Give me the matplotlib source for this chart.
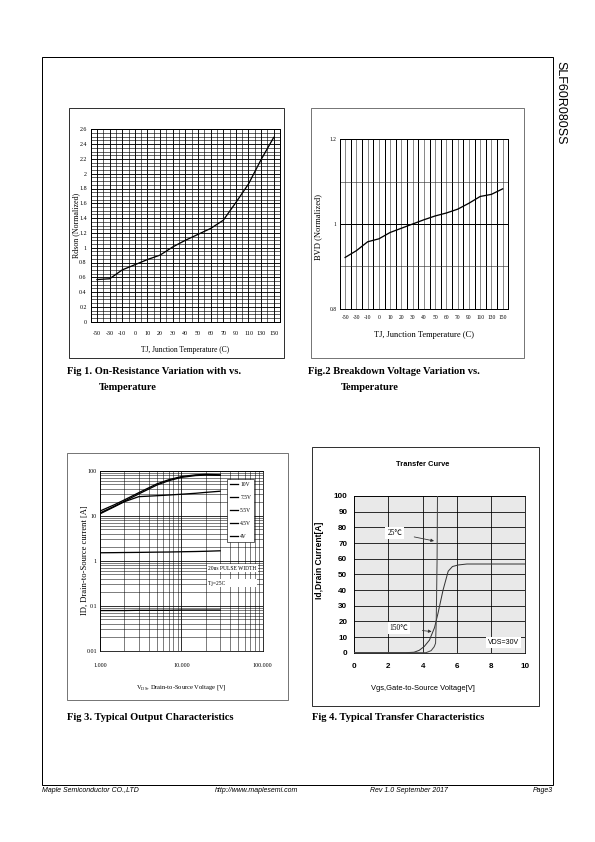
import matplotlib
matplotlib.use("Agg")
import matplotlib.pyplot as plt
import numpy as np
from matplotlib.patches import Rectangle

# fig 1 / fig 2 : normalized values vs junction temperature (category axis)
tj_labels = ["-50", "-30", "-10", "0", "10", "20", "30", "40", "50", "60", "70", "90", "110", "130", "150"]
rdson_norm = [0.57, 0.58, 0.70, 0.77, 0.84, 0.90, 1.01, 1.10, 1.18, 1.26, 1.37, 1.61, 1.86, 2.19, 2.49]
bvd_norm = [0.921, 0.937, 0.958, 0.965, 0.980, 0.990, 1.000, 1.010, 1.019, 1.026, 1.035, 1.049, 1.065, 1.070, 1.083]

# fig 3 : output characteristics
vds = [1, 1.5, 2, 3, 5, 7, 10, 15, 20, 30]
id_10v = [12.7, 17.5, 22.5, 32.5, 51, 63, 74, 81, 83, 81]
id_75v = [11.5, 16.2, 21, 30.5, 48, 60, 71, 78, 80, 79]
id_55v = [11.0, 15.8, 20.5, 26.5, 27.8, 28.8, 30, 31.5, 33, 35]
id_45v = [1.50, 1.51, 1.52, 1.53, 1.55, 1.56, 1.58, 1.60, 1.62, 1.66]
id_4v = [0.078, 0.078, 0.078, 0.079, 0.079, 0.079, 0.080, 0.080, 0.080, 0.080]
gate_labels = ["10V", "7.5V", "5.5V", "4.5V", "4V"]

# fig 4 : transfer curve
vgs_150 = [0, 3.0, 3.5, 3.8, 4.1, 4.4, 4.7, 4.9, 5.2, 5.5, 5.75, 6.1, 6.6, 10]
id_150 = [0, 0, 0.3, 1.5, 4, 8, 16, 25, 40, 52, 55, 56, 56.6, 56.6]
vgs_25 = [0, 4.2, 4.5, 4.68, 4.76, 4.8, 4.85, 4.88]
id_25 = [0, 0, 1.3, 3.8, 6, 20, 60, 110]

W, H = 595, 842
fig = plt.figure(figsize=(W / 72, H / 72), dpi=72)
SERIF = "Liberation Serif"
SANS = "Liberation Sans"


def ax_px(x0, y0, x1, y1):
    return fig.add_axes([x0 / W, 1 - y1 / H, (x1 - x0) / W, (y1 - y0) / H])


def box_px(x0, y0, x1, y1, lw=0.8, color="k"):
    fig.add_artist(Rectangle((x0 / W, 1 - y1 / H), (x1 - x0) / W, (y1 - y0) / H,
                             transform=fig.transFigure, fill=False, lw=lw, ec=color))


def text_px(x, y, s, **kw):
    fig.text(x / W, 1 - y / H, s, **kw)


def frac(rect, x, y):
    # pixel -> axes fraction for an axes placed at rect (x0,y0,x1,y1)
    x0, y0, x1, y1 = rect
    return (x - x0) / (x1 - x0), (y1 - y) / (y1 - y0)


# page frame
box_px(42, 57, 553, 785, lw=1.0)
text_px(560, 103, "SLF60R080SS", rotation=270, ha="center", va="center", family=SANS, fontsize=12.5)
text_px(42, 791, "Maple Semiconductor CO.,LTD", ha="left", va="center", family=SANS, style="italic", fontsize=7)
text_px(215, 791, "http://www.maplesemi.com", ha="left", va="center", family=SANS, style="italic", fontsize=7)
text_px(370, 791, "Rev 1.0 September 2017", ha="left", va="center", family=SANS, style="italic", fontsize=7)
text_px(553, 791, "Page3", ha="right", va="center", family=SANS, style="italic", fontsize=7)

# figure boxes
box_px(69, 108, 284, 358, lw=0.8)
box_px(311, 108, 524, 358, lw=0.8, color="#555555")
box_px(67, 453, 288, 700, lw=0.8, color="#555555")
box_px(312, 447, 539, 706, lw=0.8)

# ---------- Fig 1 ----------
r1 = (90.7, 129.3, 280, 321.7)
ax1 = ax_px(*r1)
xs = np.arange(len(tj_labels))
ax1.plot(xs, rdson_norm, color="k", lw=1.3, zorder=3)
ax1.set_xlim(-0.5, len(tj_labels) - 0.5)
ax1.set_ylim(0, 2.6)
ax1.set_xticks(xs)
ax1.set_xticklabels(tj_labels)
ax1.set_xticks(xs[:-1] + 0.5, minor=True)
yt1 = np.round(np.arange(0, 2.61, 0.2), 1)
ax1.set_yticks(yt1)
ax1.set_yticklabels([f"{v:g}" for v in yt1])
ax1.set_yticks(np.arange(0, 2.6, 0.05), minor=True)
ax1.grid(which="major", color="k", lw=0.9)
ax1.grid(which="minor", color="k", lw=0.6)
ax1.tick_params(which="both", length=0)
ax1.tick_params(axis="x", pad=9)
ax1.tick_params(axis="y", pad=4)
for lab in ax1.get_xticklabels() + ax1.get_yticklabels():
    lab.set_family(SERIF)
    lab.set_fontsize(6)
for s in ax1.spines.values():
    s.set_linewidth(1.0)
ax1.set_xlabel("TJ, Junction Temperature (C)", family=SERIF, fontsize=7.5)
ax1.xaxis.set_label_coords(*frac(r1, 185, 350))
ax1.set_ylabel("Rdson (Normalized)", family=SERIF, fontsize=8)
ax1.yaxis.set_label_coords(*frac(r1, 76, 225))
ax1.xaxis.label.set_va("center")
ax1.yaxis.label.set_va("center")

# ---------- Fig 2 ----------
r2 = (339.5, 139.3, 508.3, 308.7)
ax2 = ax_px(*r2)
ax2.plot(xs, bvd_norm, color="k", lw=1.3, zorder=3)
ax2.set_xlim(-0.5, len(tj_labels) - 0.5)
ax2.set_ylim(0.8, 1.2)
ax2.set_xticks(xs)
ax2.set_xticklabels(tj_labels)
ax2.set_xticks(xs[:-1] + 0.5, minor=True)
ax2.set_yticks([0.8, 1.0, 1.2])
ax2.set_yticklabels(["0.8", "1", "1.2"])
ax2.set_yticks([0.9, 1.1], minor=True)
ax2.grid(which="major", axis="x", color="#8a8a8a", lw=1.0)
ax2.grid(which="minor", axis="x", color="k", lw=1.0)
ax2.grid(which="major", axis="y", color="k", lw=1.0)
ax2.grid(which="minor", axis="y", color="#333333", lw=0.6)
ax2.tick_params(which="both", length=0)
ax2.tick_params(axis="x", pad=6)
ax2.tick_params(axis="y", pad=3)
for lab in ax2.get_xticklabels() + ax2.get_yticklabels():
    lab.set_family(SERIF)
    lab.set_fontsize(5.5)
for s in ax2.spines.values():
    s.set_linewidth(1.0)
ax2.set_xlabel("TJ, Junction Temperature (C)", family=SERIF, fontsize=8.5)
ax2.xaxis.set_label_coords(*frac(r2, 424, 335))
ax2.set_ylabel("BVD (Normalized)", family=SERIF, fontsize=8.5)
ax2.yaxis.set_label_coords(*frac(r2, 318, 227))
ax2.xaxis.label.set_va("center")
ax2.yaxis.label.set_va("center")

# ---------- Fig 3 ----------
r3 = (100, 470.7, 262.7, 650.7)
ax3 = ax_px(*r3)
ax3.set_xscale("log")
ax3.set_yscale("log")
for ys, lab in zip([id_10v, id_75v, id_55v, id_45v, id_4v], gate_labels):
    ax3.plot(vds, ys, color="k", lw=1.3, label=lab, zorder=3)
ax3.set_xlim(1, 100)
ax3.set_ylim(0.01, 100)
ax3.set_xticks([1, 10, 100])
ax3.set_xticklabels(["1.000", "10.000", "100.000"])
ax3.set_yticks([0.01, 0.1, 1, 10, 100])
ax3.set_yticklabels(["0.01", "0.1", "1", "10", "100"])
ax3.grid(which="major", color="k", lw=0.8)
ax3.grid(which="minor", color="k", lw=0.5)
ax3.tick_params(which="both", length=0)
ax3.tick_params(axis="x", pad=12)
ax3.tick_params(axis="y", pad=3)
for lab in ax3.get_xticklabels() + ax3.get_yticklabels():
    lab.set_family(SERIF)
    lab.set_fontsize(6)
leg = ax3.legend(loc="upper right", bbox_to_anchor=frac(r3, 254, 479.3), borderaxespad=0,
                 prop={"family": SERIF, "size": 5.5}, frameon=True, fancybox=False,
                 framealpha=1, edgecolor="k", handlelength=1.6, handletextpad=0.3,
                 labelspacing=1.45, borderpad=0.5)
leg.get_frame().set_linewidth(0.6)
ax3.text(*frac(r3, 208, 568), "20us PULSE WIDTH", transform=ax3.transAxes, family=SERIF,
         fontsize=5.5, ha="left", va="center",
         bbox=dict(facecolor="white", edgecolor="none", pad=1.5), zorder=4)
ax3.text(*frac(r3, 208, 583), "Tj=25C" + " " * 22, transform=ax3.transAxes, family=SERIF,
         fontsize=5.5, ha="left", va="center",
         bbox=dict(facecolor="white", edgecolor="none", pad=1.5), zorder=4)
ax3.set_xlabel("V$_{\\mathregular{DS}}$, Drain-to-Source Voltage [V]", family=SERIF, fontsize=6.5)
ax3.xaxis.set_label_coords(*frac(r3, 181, 688))
ax3.set_ylabel("ID, Drain-to-Source current [A]", family=SERIF, fontsize=8.5)
ax3.yaxis.set_label_coords(*frac(r3, 85, 560))
ax3.xaxis.label.set_va("center")
ax3.yaxis.label.set_va("center")

# ---------- Fig 4 ----------
r4 = (354.3, 496, 525, 652.7)
ax4 = ax_px(*r4)
ax4.set_facecolor("#e9e9e9")
ax4.plot(vgs_150, id_150, color="#333333", lw=1.0, zorder=3)
ax4.plot(vgs_25, id_25, color="#444444", lw=1.0, zorder=3)
ax4.set_xlim(0, 10)
ax4.set_ylim(0, 100)
ax4.set_xticks(range(0, 11, 2))
ax4.set_yticks(range(0, 101, 10))
ax4.grid(color="k", lw=0.8)
ax4.set_axisbelow(True)
ax4.tick_params(length=0)
ax4.tick_params(axis="x", pad=10)
ax4.tick_params(axis="y", pad=7)
for lab in ax4.get_xticklabels() + ax4.get_yticklabels():
    lab.set_family(SANS)
    lab.set_fontsize(8)
    lab.set_fontweight("bold")
for s in ax4.spines.values():
    s.set_linewidth(0.8)
cjk = [SERIF, "Noto Sans CJK SC"]
ax4.annotate("25℃", xy=(4.67, 71.3), xytext=(2.38, 76.4), family=cjk, fontsize=7.5,
             ha="center", va="center",
             bbox=dict(facecolor="white", edgecolor="none", pad=2),
             arrowprops=dict(arrowstyle="-|>", color="#333333", lw=0.8, mutation_scale=6,
                             shrinkA=10, shrinkB=0))
ax4.annotate("150℃", xy=(4.53, 13.5), xytext=(2.62, 15.7), family=cjk, fontsize=7.5,
             ha="center", va="center",
             bbox=dict(facecolor="white", edgecolor="none", pad=2),
             arrowprops=dict(arrowstyle="-|>", color="#333333", lw=0.8, mutation_scale=6,
                             shrinkA=12, shrinkB=0))
ax4.text(8.72, 6.5, "VDS=30V", family=SANS, fontsize=7, ha="center", va="center",
         bbox=dict(facecolor="white", edgecolor="none", pad=2), zorder=4)
text_px(423, 465, "Transfer Curve", family=SANS, fontsize=7.5, fontweight="bold",
        ha="center", va="center")
ax4.set_xlabel("Vgs,Gate-to-Source Voltage[V]", family=SANS, fontsize=7.5)
ax4.xaxis.set_label_coords(*frac(r4, 423, 688))
ax4.set_ylabel("Id,Drain Current[A]", family=SANS, fontsize=8.5, fontweight="bold")
ax4.yaxis.set_label_coords(*frac(r4, 320, 560))
ax4.xaxis.label.set_va("center")
ax4.yaxis.label.set_va("center")

# captions
cap = dict(family=SERIF, fontsize=10.5, fontweight="bold", ha="left", va="center")
text_px(67, 372, "Fig 1. On-Resistance Variation with vs.", **cap)
text_px(99, 388, "Temperature", **cap)
text_px(308, 372, "Fig.2 Breakdown Voltage Variation vs.", **cap)
text_px(341, 388, "Temperature", **cap)
text_px(67, 718, "Fig 3. Typical Output Characteristics", **cap)
text_px(312, 718, "Fig 4. Typical Transfer Characteristics", **cap)

fig.savefig("out.png", dpi=72)
